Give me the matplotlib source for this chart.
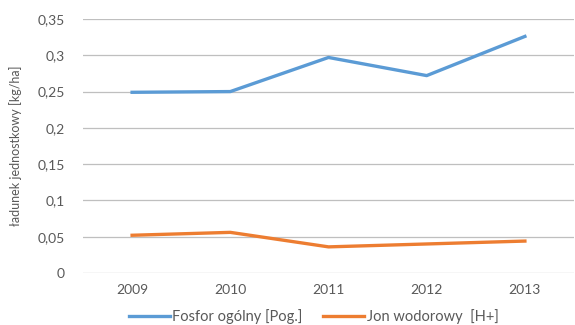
import numpy as np
import matplotlib.pyplot as plt

plt.rcParams['font.family'] = ['Lato', 'DejaVu Sans']

years = ['2009', '2010', '2011', '2012', '2013']
fosfor = [0.249, 0.250, 0.297, 0.272, 0.326]
wodor = [0.052, 0.056, 0.036, 0.040, 0.044]
yticks = [0, 0.05, 0.1, 0.15, 0.2, 0.25, 0.3, 0.35]
ytick_labels = ['0', '0,05', '0,1', '0,15', '0,2', '0,25', '0,3', '0,35']

text_col = '#595959'

fig = plt.figure(figsize=(5.75, 3.25), dpi=100)
ax = fig.add_axes([83 / 575, 1 - 273 / 325, (574 - 83) / 575, (273 - 19) / 325])

x = np.arange(len(years))
ax.plot(x, fosfor, color='#5B9BD5', lw=2.4, label='Fosfor ogólny [Pog.]')
ax.plot(x, wodor, color='#ED7D31', lw=2.4, label='Jon wodorowy  [H+]')

ax.set_xlim(-0.5, len(years) - 0.5)
ax.set_ylim(0, 0.35)
ax.set_yticks(yticks)
ax.set_yticklabels(ytick_labels)
ax.set_xticks(x)
ax.set_xticklabels(years)
ax.tick_params(length=0, labelsize=10, colors=text_col, pad=8)
ax.tick_params(axis='y', pad=13)
ax.grid(axis='y', color='#BFBFBF', lw=0.9)
ax.set_axisbelow(True)
for s in ax.spines.values():
    s.set_visible(False)

ax.set_ylabel('ładunek jednostkowy [kg/ha]', fontsize=9, color=text_col, labelpad=11)

leg = ax.legend(loc='lower center', bbox_to_anchor=(0.47, -0.2), ncol=2, frameon=False,
                fontsize=10.5, handlelength=2.8, handletextpad=0.2, columnspacing=1.4,
                borderpad=0, borderaxespad=0)
for t in leg.get_texts():
    t.set_color(text_col)

fig.savefig('out.png', dpi=100)
